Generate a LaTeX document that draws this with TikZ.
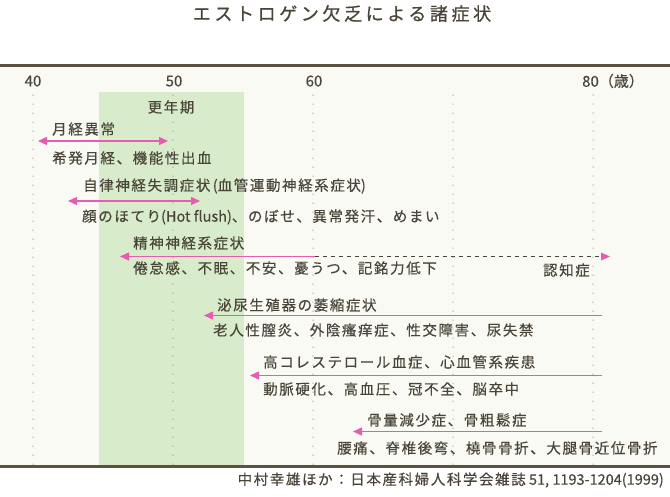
\documentclass[tikz,border=0pt]{standalone}
\usepackage{fontspec}
\setmainfont{Noto Sans CJK JP}[LetterSpace=11,FakeBold=0.3]
\newfontfamily\latfont{Noto Sans CJK JP}[FakeBold=0.3]
\newfontfamily\titlefont{Noto Sans CJK JP}[LetterSpace=20,FakeBold=0.8]
\usetikzlibrary{arrows.meta}
\definecolor{ink}{HTML}{4A4538}
\definecolor{rulec}{HTML}{5B5240}
\definecolor{bgc}{HTML}{FAFAF5}
\definecolor{greenc}{HTML}{D8EBCB}
\definecolor{pinkc}{HTML}{E65DAF}
\begin{document}
\begin{tikzpicture}[x=1pt,y=-1pt,
  lbl/.style={font=\fontsize{14.5}{16}\selectfont, text=ink, inner sep=0pt, anchor=west},
  axl/.style={font=\latfont\fontsize{15}{16}\selectfont, text=ink, inner sep=0pt},
  dotline/.style={draw=ink, line width=1pt, line cap=round, dash pattern=on 0pt off 9pt},
  rulel/.style={draw=rulec, line width=3pt},
  onearrow/.style={draw=pinkc, line width=1.4pt, -{Triangle[length=9pt,width=8pt]}},
  twoarrow/.style={draw=pinkc, line width=1.4pt, {Triangle[length=9pt,width=8pt]}-{Triangle[length=9pt,width=8pt]}}
]
\useasboundingbox (0,0) rectangle (670,496);
\fill[white] (0,0) rectangle (670,496);
\fill[bgc] (0,65) rectangle (670,466);
\fill[greenc] (99,92) rectangle (244,466);
\foreach \x in {33,173,313,453,593} \draw[dotline] (\x,95) -- (\x,466);
\draw[rulel] (0,65) -- (670,65);
\draw[rulel] (0,466.5) -- (670,466.5);

% title
\node[font=\titlefont\fontsize{18}{20}\selectfont, text=ink, inner sep=0pt] (title) at (342,13.5) {エストロゲン欠乏による諸症状};

% axis labels
\node[axl] (t40) at (33,81) {40};
\node[axl] (t50) at (174,81) {50};
\node[axl] (t60) at (314,81) {60};
\node[axl, anchor=west] (t80) at (582,81) {80（歳）};

\node[lbl, anchor=center] (kounenki) at (171,107) {更年期};

% 1
\node[lbl] (n1) at (52,129) {月経異常};
\coordinate (a1l) at (38,141);
\coordinate (a1r) at (168,141);
\draw[twoarrow] (a1l) -- (a1r);
\node[lbl] (d1) at (52,158) {希発月経、機能性出血};

% 2
\node[lbl] (n2) at (83,186) {自律神経失調症状{\latfont\,(}血管運動神経系症状{\latfont )}};
\coordinate (a2l) at (68,201);
\coordinate (a2r) at (200,201);
\draw[twoarrow] (a2l) -- (a2r);
\node[lbl] (d2) at (82,217) {顔のほてり{\latfont (Hot flush)}、のぼせ、異常発汗、めまい};

% 3
\node[lbl] (n3) at (133,243) {精神神経系症状};
\coordinate (a3l) at (120,256.5);
\coordinate (a3m) at (315,256.5);
\coordinate (a3d) at (602,256.5);
\coordinate (a3r) at (610,256.5);
\draw[onearrow] (a3m) -- (a3l);
\draw[draw=ink, line width=1pt, dash pattern=on 4pt off 4pt] (a3m) -- (a3d);
\fill[pinkc] (a3r) -- ++(-9,-4) -- ++(0,8) -- cycle;
\node[lbl] (d3) at (133,268) {倦怠感、不眠、不安、憂うつ、記銘力低下};
\node[lbl, anchor=east] (d3b) at (590,270) {認知症};

% 4
\node[lbl] (n4) at (217,305) {泌尿生殖器の萎縮症状};
\coordinate (a4l) at (204,315.5);
\coordinate (a4r) at (602,315.5);
\draw[onearrow] (a4r) -- (a4l);
\node[lbl] (d4) at (213,330) {老人性膣炎、外陰瘙痒症、性交障害、尿失禁};

% 5
\node[lbl] (n5) at (263,362) {高コレステロール血症、心血管系疾患};
\coordinate (a5l) at (250,375.5);
\coordinate (a5r) at (602,375.5);
\draw[onearrow] (a5r) -- (a5l);
\node[lbl] (d5) at (263,389) {動脈硬化、高血圧、冠不全、脳卒中};

% 6
\node[lbl] (n6) at (367,420) {骨量減少症、骨粗鬆症};
\coordinate (a6l) at (353,431.5);
\coordinate (a6r) at (602,431.5);
\draw[onearrow] (a6r) -- (a6l);
\node[lbl] (d6) at (337,448) {腰痛、脊椎後弯、橈骨骨折、大腿骨近位骨折};

% citation
\node[lbl, anchor=east] (cite) at (664,480) {中村幸雄ほか：日本産科婦人科学会雑誌{\latfont\ 51, 1193-1204(1999)}};
\end{tikzpicture}
\end{document}
